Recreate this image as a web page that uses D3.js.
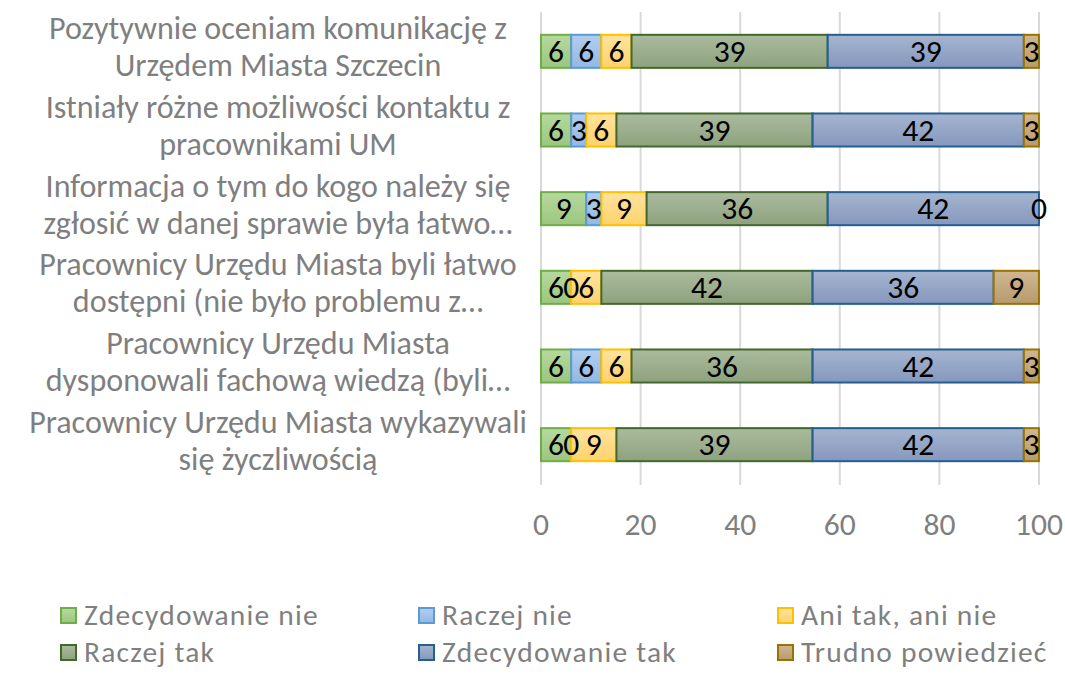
<!DOCTYPE html>
<html lang="pl">
<head>
<meta charset="utf-8">
<title>Ocena komunikacji z UM</title>
<script src="https://cdn.jsdelivr.net/npm/d3@7"></script>
<style>
  body { margin: 0; background: #fff; }
  text { font-family: Carlito, "Open Sans", sans-serif; }
  .cat text { fill: #7f7f7f; }
  .tick-lbl { fill: #7f7f7f; }
  .legend text { fill: #7f7f7f; }
  .val { fill: #000; }
</style>
</head>
<body>
<script>
// categories, top to bottom (wrapped lines split by \n)
var categories = [
  "Pozytywnie oceniam komunikację z\nUrzędem Miasta Szczecin",
  "Istniały różne możliwości kontaktu z\npracownikami UM",
  "Informacja o tym do kogo należy się\nzgłosić w danej sprawie była łatwo…",
  "Pracownicy Urzędu Miasta byli łatwo\ndostępni (nie było problemu z…",
  "Pracownicy Urzędu Miasta\ndysponowali fachową wiedzą (byli…",
  "Pracownicy Urzędu Miasta wykazywali\nsię życzliwością"
];
var seriesNames = ["Zdecydowanie nie", "Raczej nie", "Ani tak, ani nie", "Raczej tak", "Zdecydowanie tak", "Trudno powiedzieć"];

// values per series (one number per category, in category order)
var zdecydowanieNie  = [6.06, 6.06, 9.09, 6.06, 6.06, 6.06];
var raczejNie        = [6.06, 3.03, 3.03, 0,    6.06, 0];
var aniTakAniNie     = [6.06, 6.06, 9.09, 6.06, 6.06, 9.09];
var raczejTak        = [39.39, 39.39, 36.36, 42.42, 36.36, 39.39];
var zdecydowanieTak  = [39.39, 42.42, 42.42, 36.36, 42.42, 42.42];
var trudnoPowiedziec = [3.03, 3.03, 0, 9.09, 3.03, 3.03];

var xTicks = [0, 20, 40, 60, 80, 100];

var seriesValues = [zdecydowanieNie, raczejNie, aniTakAniNie, raczejTak, zdecydowanieTak, trudnoPowiedziec];
var fillsTop    = ["#b6d99e", "#b2ceee", "#ffe39e", "#aabb9e", "#a5b5d0", "#cfb793"];
var fillsBottom = ["#9bc67f", "#93b8e2", "#ffd26c", "#8ea27e", "#8597bd", "#b79b6c"];
var strokes     = ["#70ad47", "#5b9bd5", "#ffc000", "#43682b", "#255e91", "#997300"];

var w = 1065, h = 675;
var svg = d3.select("body").append("svg").attr("width", w).attr("height", h);

// measure text width to pick a font size that matches the original widths
function fitSize(str, target) {
  var t = svg.append("text").attr("font-size", 100).text(str);
  var len = t.node().getComputedTextLength();
  t.remove();
  return 100 * target / len;
}
var catSize = fitSize("Pracownicy Urzędu Miasta wykazywali", 498);
var tickSize = fitSize("100", 48);
var legSize = Math.min(fitSize("Zdecydowanie nie", 233), 29.5);
var valSize = tickSize;

var rows = categories.map(function(c, i) {
  var r = { cat: c };
  seriesNames.forEach(function(s, j) { r[s] = seriesValues[j][i]; });
  return r;
});
var stacked = d3.stack().keys(seriesNames)(rows);

var xScale = d3.scaleLinear().domain([0, 100]).range([541, 1039]);
var yScale = d3.scaleBand().domain(categories).range([12, 484])
               .paddingInner(0.58).paddingOuter(0.29);

// gradients
var defs = svg.append("defs");
seriesNames.forEach(function(s, j) {
  var g = defs.append("linearGradient").attr("id", "g" + j)
              .attr("x1", 0).attr("y1", 0).attr("x2", 0).attr("y2", 1);
  g.append("stop").attr("offset", "0%").attr("stop-color", fillsTop[j]);
  g.append("stop").attr("offset", "100%").attr("stop-color", fillsBottom[j]);
});

// vertical grid lines
svg.append("g").selectAll("line")
   .data(xTicks).enter().append("line")
   .attr("x1", function(d) { return xScale(d); })
   .attr("x2", function(d) { return xScale(d); })
   .attr("y1", 12).attr("y2", 485)
   .attr("stroke", "#d9d9d9").attr("stroke-width", 2);

// tick labels
svg.append("g").selectAll("text")
   .data(xTicks).enter().append("text")
   .attr("class", "tick-lbl")
   .attr("x", function(d) { return xScale(d); })
   .attr("y", 535)
   .attr("text-anchor", "middle")
   .attr("font-size", tickSize)
   .text(function(d) { return d; });

// bars
var segs = [];
stacked.forEach(function(layer) {
  layer.forEach(function(p) { segs.push({ p: p, idx: layer.index }); });
});

svg.append("g").selectAll("rect")
   .data(segs).enter().append("rect")
   .attr("x", function(d) { return xScale(d.p[0]); })
   .attr("y", function(d) { return yScale(d.p.data.cat); })
   .attr("width", function(d) { return xScale(d.p[1]) - xScale(d.p[0]); })
   .attr("height", yScale.bandwidth())
   .attr("fill", function(d) { return "url(#g" + d.idx + ")"; })
   .attr("stroke", function(d) { return strokes[d.idx]; })
   .attr("stroke-width", function(d) { return d.p[1] - d.p[0] > 0 ? 2 : 0; });

// value labels (drawn after all bars)
svg.append("g").selectAll("text")
   .data(segs).enter().append("text")
   .attr("class", "val")
   .attr("x", function(d) { return xScale((d.p[0] + d.p[1]) / 2); })
   .attr("y", function(d) { return yScale(d.p.data.cat) + yScale.bandwidth() / 2; })
   .attr("dy", "0.34em")
   .attr("text-anchor", "middle")
   .attr("font-size", valSize)
   .text(function(d) { return Math.round(d.p[1] - d.p[0]); });

// category labels
var cat = svg.append("g").attr("class", "cat");
cat.selectAll("text")
   .data(categories).enter().append("text")
   .attr("text-anchor", "middle")
   .attr("font-size", catSize)
   .each(function(d) {
     var cy = yScale(d) + yScale.bandwidth() / 2;
     var lines = d.split("\n");
     var t = d3.select(this);
     lines.forEach(function(l, k) {
       t.append("tspan").attr("x", 278).attr("y", cy - 12 + k * 37).text(l);
     });
   });

// legend
var legCols = [60, 418, 777];
var legRows = [606, 643];
var leg = svg.append("g").attr("class", "legend");
var items = leg.selectAll("g")
   .data(seriesNames).enter().append("g")
   .attr("transform", function(d, i) {
     return "translate(" + legCols[i % 3] + "," + legRows[Math.floor(i / 3)] + ")";
   });
items.append("rect")
   .attr("x", 1).attr("y", 2).attr("width", 15).attr("height", 15)
   .attr("fill", function(d, i) { return "url(#g" + i + ")"; })
   .attr("stroke", function(d, i) { return strokes[i]; })
   .attr("stroke-width", 2);
items.append("text")
   .attr("x", 24).attr("y", 19)
   .attr("font-size", legSize)
   .attr("letter-spacing", 1.2)
   .text(function(d) { return d; });
</script>
</body>
</html>
